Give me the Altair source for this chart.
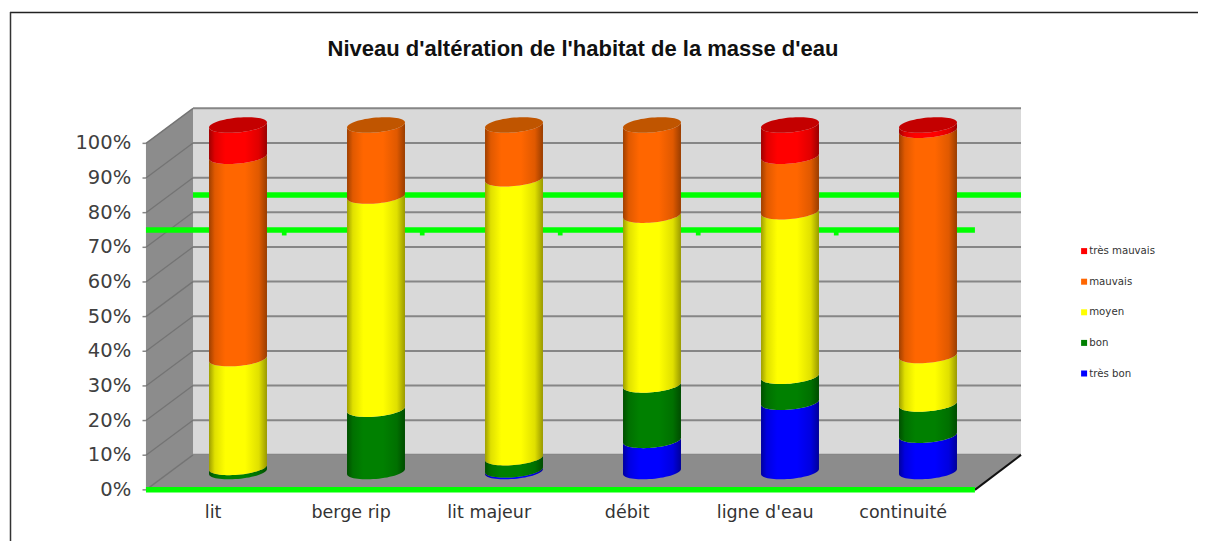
import numpy as np
import pandas as pd
import altair as alt

categories = ["lit", "berge rip", "lit majeur", "débit", "ligne d'eau", "continuité"]
series_names = ["très bon", "bon", "moyen", "mauvais", "très mauvais"]
tres_bon = [0, 0, 0.5, 9, 20, 10.5]
bon = [1.2, 18, 3.5, 16, 7.5, 9]
moyen = [31.4, 61.5, 80.5, 49, 47.5, 14]
mauvais = [58.4, 20.5, 15.5, 26, 16, 65]
tres_mauvais = [9, 0, 0, 0, 9, 1.5]
series_values = [tres_bon, bon, moyen, mauvais, tres_mauvais]
series_colors = ["#0000ff", "#008000", "#ffff00", "#ff6600", "#ff0000"]
series_dark = ["#0000a0", "#005000", "#a0a000", "#c05500", "#c40000"]
tick_values = list(range(0, 101, 10))
target_line = 75
W, H = 1190, 533

# scales: one category step = 138 px, one percent = 3.465 px on the plane of the bars
xs = alt.Scale(domain=[-230 / 138, (W - 230) / 138], range=[0, W], nice=False, zero=False)
ys = alt.Scale(domain=[-(H - 463.5) / 3.465, 463.5 / 3.465], range=[H, 0], nice=False, zero=False)
X = alt.X("x:Q", scale=xs, axis=None)
Y = alt.Y("y:Q", scale=ys, axis=None, stack=None)
X2 = alt.X2("x2:Q")
Y2 = alt.Y2("y2:Q")

# depth geometry of the box, in scale units
front_x0, front_x1 = -0.667, 5.34
back_x0, back_x1 = -0.326, 5.674
front_dy, back_dy = -5.3, 4.8
half_w = 0.21
tilt, arc = 0.72, 2.14


def shade(c, f):
    r, g, b = [int(c[i:i + 2], 16) for i in (1, 3, 5)]
    return "#%02x%02x%02x" % (int(r * f), int(g * f), int(b * f))


def cyl_gradient(c):
    return alt.Gradient(
        gradient="linear", x1=0, x2=1, y1=0, y2=0,
        stops=[
            alt.GradientStop(offset=0, color=shade(c, 0.62)),
            alt.GradientStop(offset=0.1, color=shade(c, 0.88)),
            alt.GradientStop(offset=0.28, color=c),
            alt.GradientStop(offset=0.62, color=c),
            alt.GradientStop(offset=0.86, color=shade(c, 0.88)),
            alt.GradientStop(offset=1, color=shade(c, 0.6)),
        ],
    )


layers = []

# back wall
layers.append(
    alt.Chart(pd.DataFrame([{"x": back_x0, "x2": back_x1, "y": back_dy, "y2": 100 + back_dy}]))
    .mark_rect(color="#d9d9d9").encode(x=X, x2=X2, y=Y, y2=Y2)
)
# back grid
layers.append(
    alt.Chart(pd.DataFrame([{"x": back_x0, "x2": back_x1, "y": t + back_dy, "y2": t + back_dy} for t in tick_values]))
    .mark_rule(color="#868686", strokeWidth=2).encode(x=X, x2=X2, y=Y, y2=Y2)
)
# side wall
layers.append(
    alt.Chart(pd.DataFrame([
        {"x": front_x0, "y": front_dy, "y2": 100 + front_dy},
        {"x": back_x0, "y": back_dy, "y2": 100 + back_dy},
    ])).mark_area(color="#8c8c8c", opacity=1).encode(x=X, y=Y, y2=Y2)
)
# floor
layers.append(
    alt.Chart(pd.DataFrame([
        {"y": front_dy, "x": front_x0, "x2": front_x1},
        {"y": back_dy, "x": back_x0, "x2": back_x1},
    ])).mark_area(color="#8c8c8c", orient="horizontal", opacity=1).encode(y=Y, x=X, x2=X2)
)
# side grid
layers.append(
    alt.Chart(pd.DataFrame([{"x": front_x0, "x2": back_x0, "y": t + front_dy, "y2": t + back_dy} for t in tick_values]))
    .mark_rule(color="#747474", strokeWidth=1.3).encode(x=X, x2=X2, y=Y, y2=Y2)
)
# floor right edge
layers.append(
    alt.Chart(pd.DataFrame([{"x": front_x1, "x2": back_x1, "y": front_dy, "y2": back_dy}]))
    .mark_rule(color="#111111", strokeWidth=2).encode(x=X, x2=X2, y=Y, y2=Y2)
)
# left tick stubs
layers.append(
    alt.Chart(pd.DataFrame([{"x": front_x0 - 0.025, "x2": front_x0, "y": t + front_dy, "y2": t + front_dy} for t in tick_values]))
    .mark_rule(color="#868686", strokeWidth=1.5).encode(x=X, x2=X2, y=Y, y2=Y2)
)
# target lines behind the bars
layers.append(
    alt.Chart(pd.DataFrame([
        {"x": back_x0, "x2": back_x1, "y": target_line + back_dy, "y2": target_line + back_dy},
        {"x": front_x0, "x2": front_x1, "y": target_line + front_dy, "y2": target_line + front_dy},
    ])).mark_rule(color="#00ff00", strokeWidth=5.5).encode(x=X, x2=X2, y=Y, y2=Y2)
)
layers.append(
    alt.Chart(pd.DataFrame([{"x": i + 0.335, "y": target_line + front_dy - 0.9} for i in range(5)]))
    .mark_square(color="#00ff00", size=22, opacity=1).encode(x=X, y=Y)
)

# cylinders
u = np.cos(np.linspace(np.pi, 0, 33))
front = np.sqrt(np.clip(1 - u * u, 0, 1))
for s, (name, vals, col) in enumerate(zip(series_names, series_values, series_colors)):
    rows = []
    for i, cat in enumerate(categories):
        if vals[i] <= 0:
            continue
        base = sum(series_values[k][i] for k in range(s))
        for a, b in zip(u, front):
            off = tilt * a - arc * b
            rows.append({"cat": cat, "x": i + half_w * a, "y": base + off, "y2": base + vals[i] + off})
    layers.append(
        alt.Chart(pd.DataFrame(rows))
        .mark_area(fill=cyl_gradient(col), opacity=1)
        .encode(x=X, y=Y, y2=Y2, detail="cat:N")
    )

# top caps take the darker colour of the highest series
for s, (col, dark) in enumerate(zip(series_colors, series_dark)):
    rows = []
    for i, cat in enumerate(categories):
        tops = [k for k in range(5) if series_values[k][i] > 0]
        if tops[-1] != s:
            continue
        total = sum(series_values[k][i] for k in range(5))
        for a, b in zip(u, front):
            rows.append({"cat": cat, "x": i + half_w * a,
                         "y": total + tilt * a - arc * b, "y2": total + tilt * a + arc * b})
    if rows:
        layers.append(
            alt.Chart(pd.DataFrame(rows)).mark_area(color=dark, opacity=1)
            .encode(x=X, y=Y, y2=Y2, detail="cat:N")
        )

# base line
layers.append(
    alt.Chart(pd.DataFrame([{"x": front_x0, "x2": front_x1, "y": front_dy, "y2": front_dy}]))
    .mark_rule(color="#00ff00", strokeWidth=5.5).encode(x=X, x2=X2, y=Y, y2=Y2)
)

# value labels
layers.append(
    alt.Chart(pd.DataFrame([{"x": front_x0 - 0.107, "y": t + front_dy, "t": f"{t}%"} for t in tick_values]))
    .mark_text(align="right", baseline="middle", font="DejaVu Sans", fontSize=19.5, color="#404040")
    .encode(x=X, y=Y, text="t:N")
)
# category labels
layers.append(
    alt.Chart(pd.DataFrame([{"x": i - 0.18, "y": -12, "t": c} for i, c in enumerate(categories)]))
    .mark_text(align="center", baseline="middle", font="DejaVu Sans", fontSize=17.5, color="#333333")
    .encode(x=X, y=Y, text="t:N")
)
# title
layers.append(
    alt.Chart(pd.DataFrame([{"x": 2.5, "y": 122, "t": "Niveau d'altération de l'habitat de la masse d'eau"}]))
    .mark_text(align="center", baseline="middle", font="Liberation Sans", fontWeight="bold", fontSize=22, color="#111111")
    .encode(x=X, y=Y, text="t:N")
)
# frame
layers.append(alt.Chart(pd.DataFrame({"a": [0]})).mark_rule(color="#222222", strokeWidth=1.5)
              .encode(x=alt.value(2), x2=alt.value(W), y=alt.value(4.5), y2=alt.value(4.5)))
layers.append(alt.Chart(pd.DataFrame({"a": [0]})).mark_rule(color="#333333", strokeWidth=1.5)
              .encode(x=alt.value(2.5), x2=alt.value(2.5), y=alt.value(4), y2=alt.value(H)))

# legend (zero-size carrier of the colour scale)
legend_order = series_names[::-1]
legend_colors = series_colors[::-1]
layers.append(
    alt.Chart(pd.DataFrame({"s": legend_order, "x": [0] * 5, "y": [0] * 5}))
    .mark_point(filled=True, size=0, opacity=1)
    .encode(
        x=X, y=Y,
        color=alt.Color(
            "s:N",
            scale=alt.Scale(domain=legend_order, range=legend_colors),
            legend=alt.Legend(
                title=None, orient="none", legendX=1071, legendY=238,
                symbolType="square", symbolSize=36, symbolOpacity=1,
                labelFont="DejaVu Sans", labelFontSize=10.2, labelColor="#333333",
                rowPadding=19.6, symbolStrokeWidth=0, labelOffset=0, labelLimit=120,
            ),
        ),
    )
)

chart = (
    alt.layer(*layers)
    .properties(width=W, height=H, padding=0, autosize=alt.AutoSizeParams(type="none"), background="#ffffff")
    .configure_view(stroke=None)
)
chart.save("out.html", embed_options={"renderer": "svg", "actions": False})
